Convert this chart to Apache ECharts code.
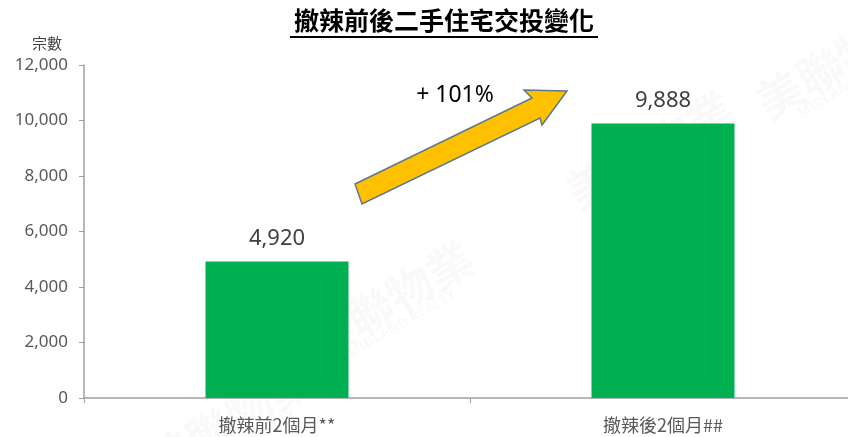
<!DOCTYPE html>
<html><head><meta charset="utf-8">
<script src="https://cdn.jsdelivr.net/npm/echarts@6/dist/echarts.min.js"></script>
<style>html,body{margin:0;padding:0;background:#fff}#c{width:848px;height:437px}</style>
</head><body><div id="c"></div>
<script>
const categories = ['撤辣前2個月**', '撤辣後2個月##'];
const values = [4920, 9888];
const yTicks = [0, 2000, 4000, 6000, 8000, 10000, 12000];
const titleText = '撤辣前後二手住宅交投變化';
const yName = '宗數';
const changeLabel = '+ 101%';

const chart = echarts.init(document.getElementById('c'));
const cjk = '"Noto Sans CJK TC", "Noto Sans", sans-serif';
const wm = [];
[[390,300],[650,150],[230,420],[840,60]].forEach(p => {
  wm.push({type:'text', x:p[0], y:p[1], rotation:Math.PI/6, z:0,
    style:{text:'美聯物業', fill:'rgba(0,0,0,0.025)', font:'bold 46px "Noto Sans CJK TC"', align:'center', verticalAlign:'middle'}});
  wm.push({type:'text', x:p[0]+12, y:p[1]+24, rotation:Math.PI/6, z:0,
    style:{text:'MIDLAND REALTY', fill:'rgba(0,0,0,0.025)', font:'bold 14px "Noto Sans"', align:'center', verticalAlign:'middle'}});
});
chart.setOption({
  animation:false,
  grid:{left:84, top:65, right:-8, bottom:39, containLabel:false, outerBoundsMode:'none'},
  xAxis:{type:'category', data:categories,
    axisLine:{lineStyle:{color:'#a0a0a0', width:1.5}},
    axisTick:{show:true, alignWithLabel:false, length:5, lineStyle:{color:'#a0a0a0'}},
    axisLabel:{fontFamily:cjk, fontSize:18, color:'#595959', margin:18}},
  yAxis:{type:'value', min:0, max:12000, interval:2000, name:yName,
    nameLocation:'end', nameGap:14, nameTextStyle:{fontFamily:cjk, fontSize:15, color:'#404040', align:'right', padding:[0,22,0,0]},
    splitLine:{show:false},
    axisLine:{show:true, lineStyle:{color:'#a0a0a0', width:1.5}},
    axisTick:{show:true, length:5, lineStyle:{color:'#a0a0a0'}},
    axisLabel:{fontFamily:'"Noto Sans", sans-serif', fontSize:17, color:'#595959', margin:16,
      formatter:v => yTicks.includes(v) ? v.toLocaleString('en-US') : ''}},
  series:[{type:'bar', data:values, barWidth:143,
    itemStyle:{color:'#00B050'},
    label:{show:true, position:'top', distance:12, fontFamily:'"Noto Sans", sans-serif', fontSize:22, color:'#404040',
      formatter:p => p.value.toLocaleString('en-US')}}],
  graphic:wm.concat([
    {type:'text', z:10, x:444, y:20, style:{text:titleText, font:'bold 25px "Noto Sans CJK TC"', fill:'#000', align:'center', verticalAlign:'middle'}},
    {type:'line', z:10, shape:{x1:290, y1:37, x2:598, y2:37}, style:{stroke:'#000', lineWidth:2}},
    {type:'polygon', z:10, shape:{points:[[355,184],[532,98],[524,90],[567,91],[542,125],[540,118],[362,204]]},
      style:{fill:'#FFC000', stroke:'#5A7890', lineWidth:1.5}},
    {type:'text', z:10, x:455, y:95, style:{text:changeLabel, font:'23px "Noto Sans"', fill:'#000', align:'center', verticalAlign:'middle'}}
  ])
});
</script></body></html>
